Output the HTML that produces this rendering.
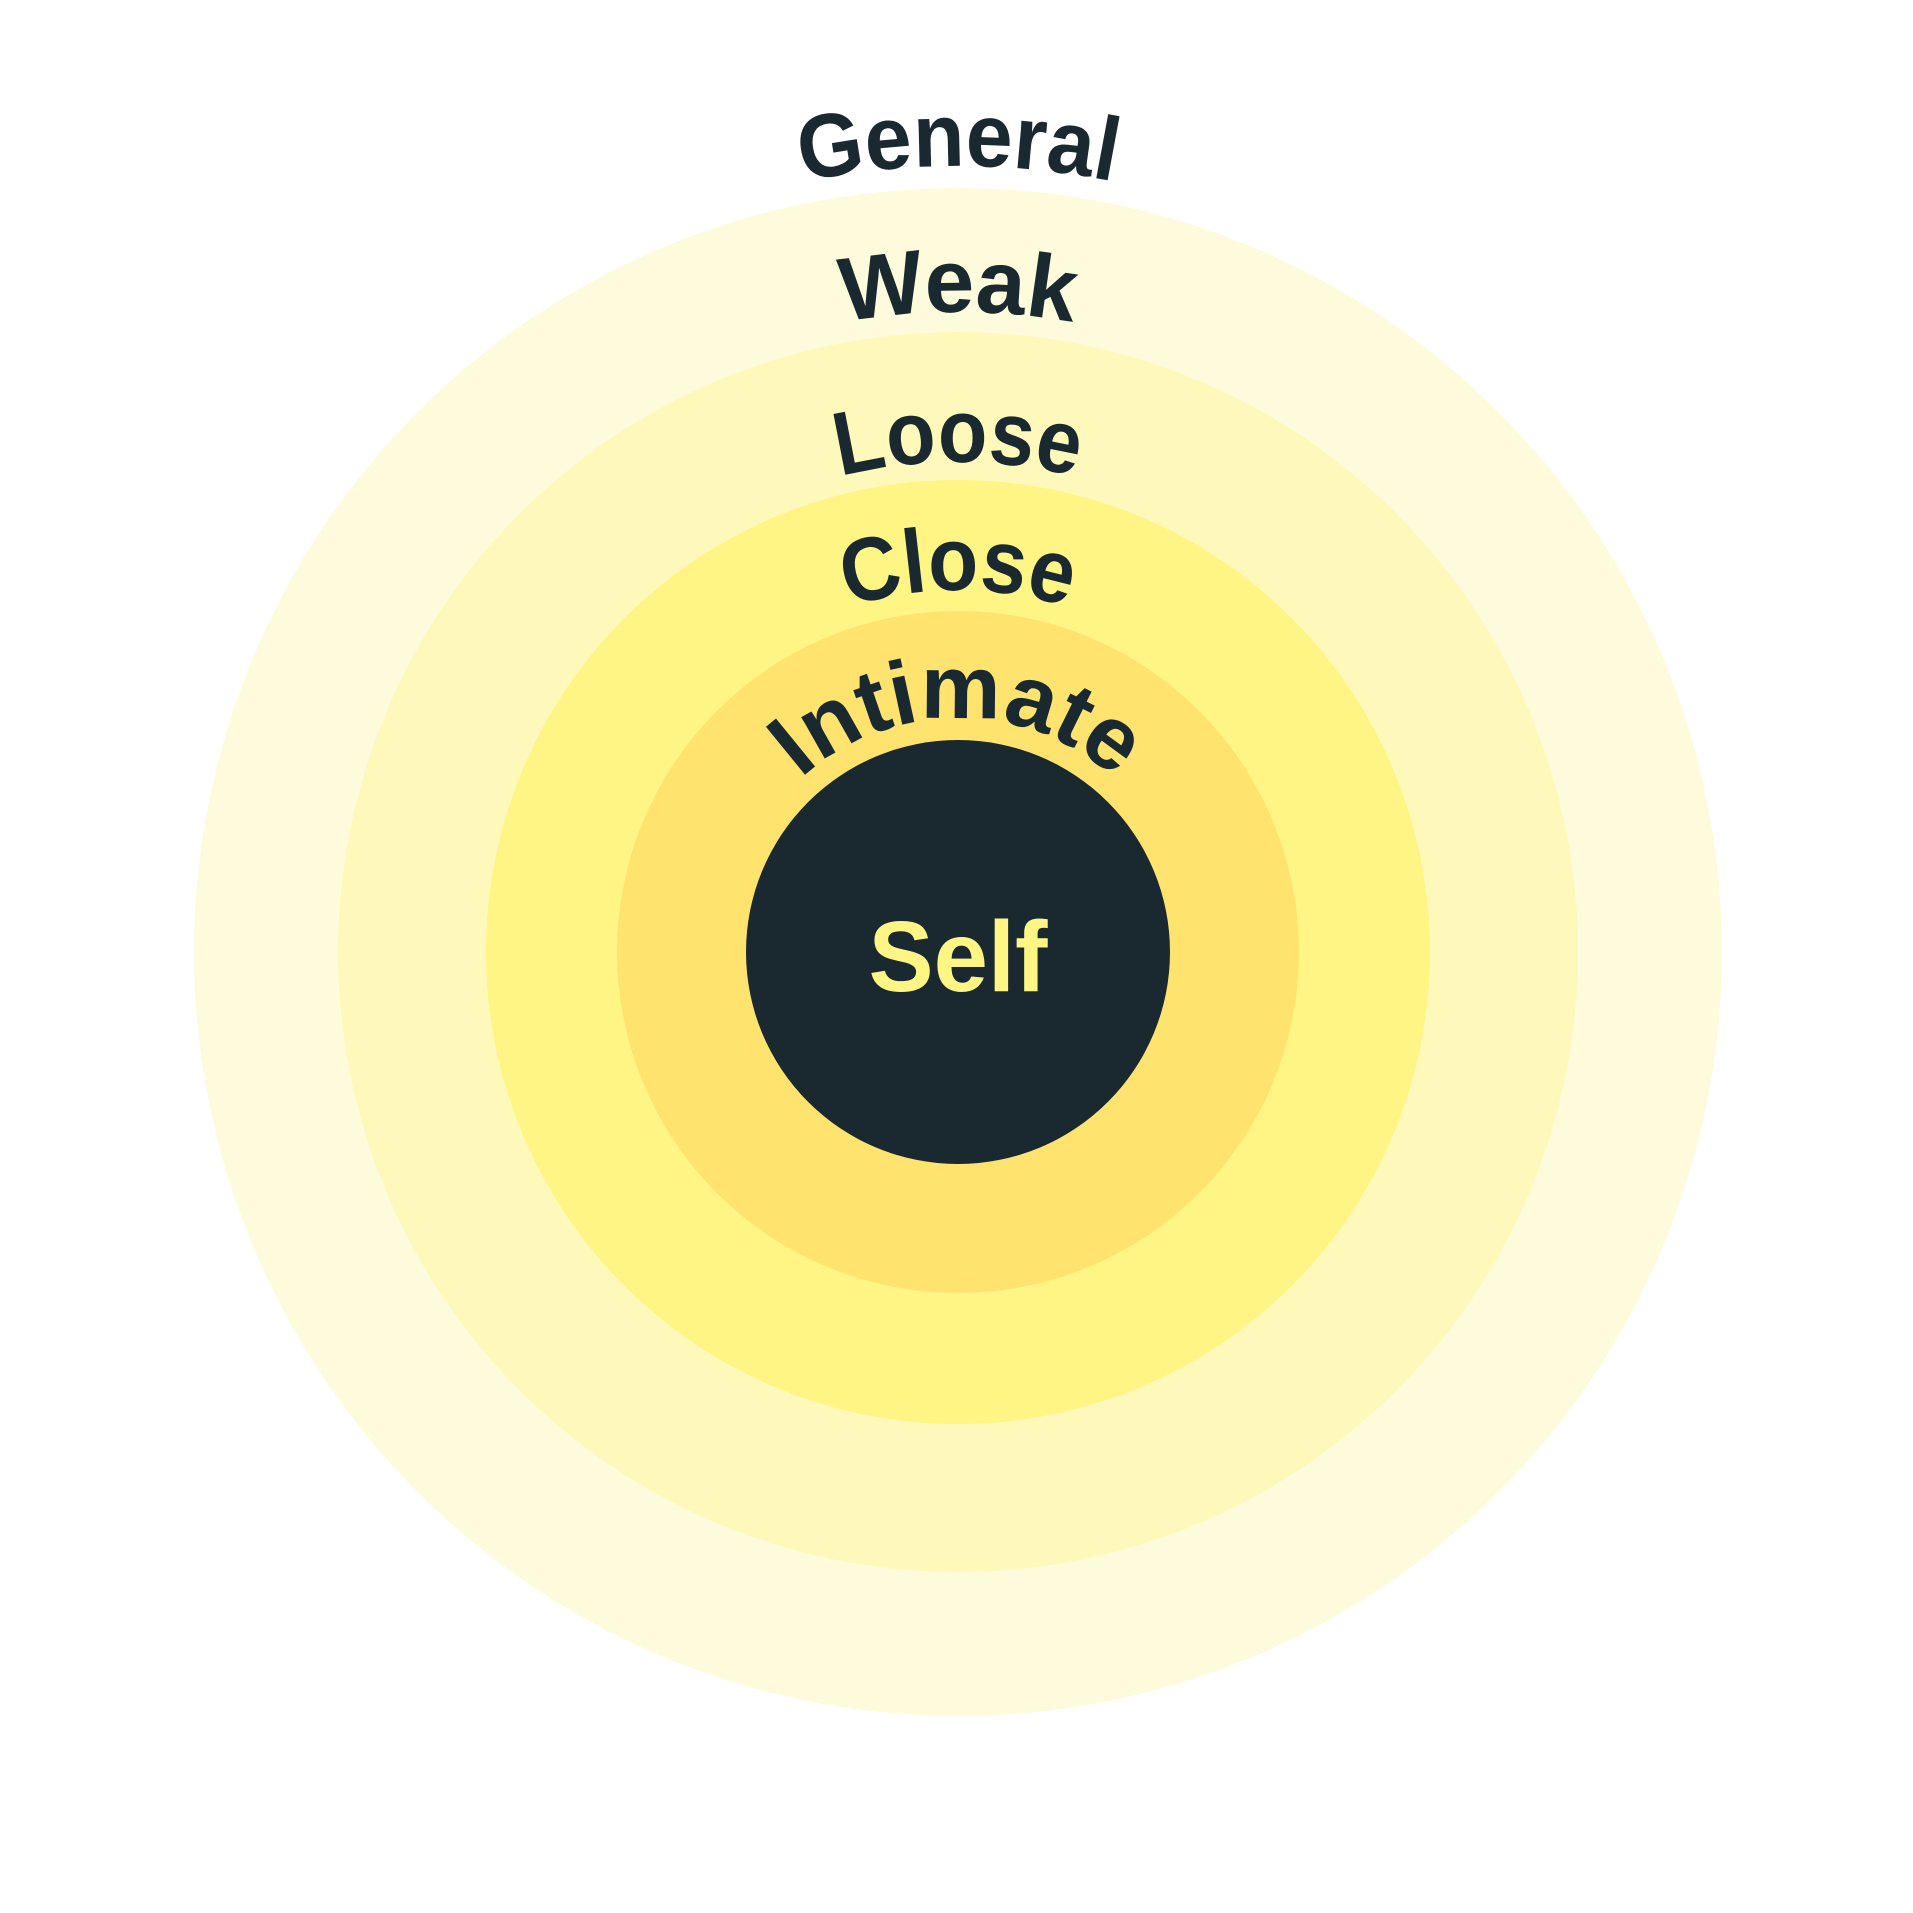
<!DOCTYPE html>
<html><head><style>html,body{margin:0;padding:0;background:#fff}svg{display:block}</style></head>
<body>
<svg width="1913" height="1913" viewBox="0 0 1913 1913" xmlns="http://www.w3.org/2000/svg">
<defs>
<path id="pG" d="M172,952 A786,786 0 0 1 1744,952"/>
<path id="pW" d="M318,952 A640,640 0 0 1 1598,952"/>
<path id="pL" d="M468,952 A490,490 0 0 1 1448,952"/>
<path id="pC" d="M596,952 A362,362 0 0 1 1320,952"/>
<path id="pI" d="M724,952 A234,234 0 0 1 1192,952"/>
</defs>
<circle cx="958" cy="952" r="764" fill="#fefbdc"/>
<circle cx="958" cy="952" r="620" fill="#fef9ba"/>
<circle cx="958" cy="952" r="472" fill="#fef585"/>
<circle cx="958" cy="952" r="341" fill="#fee36f"/>
<circle cx="958" cy="952" r="212" fill="#1a2930"/>
<g font-family="Liberation Sans, sans-serif" font-weight="bold" font-size="90" fill="#1a2930">
<text text-anchor="middle"><textPath href="#pG" startOffset="50%" textLength="313" lengthAdjust="spacingAndGlyphs">General</textPath></text>
<text text-anchor="middle"><textPath href="#pW" startOffset="50%" textLength="231" lengthAdjust="spacingAndGlyphs">Weak</textPath></text>
<text text-anchor="middle"><textPath href="#pL" startOffset="50%" textLength="238" lengthAdjust="spacingAndGlyphs">Loose</textPath></text>
<text text-anchor="middle"><textPath href="#pC" startOffset="50%" textLength="223" lengthAdjust="spacingAndGlyphs">Close</textPath></text>
<text text-anchor="middle"><textPath href="#pI" startOffset="50%" textLength="345" lengthAdjust="spacingAndGlyphs">Intimate</textPath></text>
</g>
<text x="958" y="991" text-anchor="middle" font-family="Liberation Sans, sans-serif" font-weight="bold" font-size="100" fill="#fef585" textLength="179" lengthAdjust="spacingAndGlyphs">Self</text>
</svg>
</body></html>
